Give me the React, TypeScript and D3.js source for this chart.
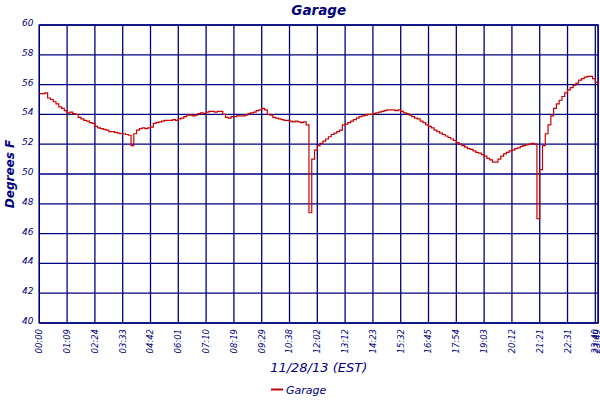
import React from "react";
import * as d3 from "d3";

const temps: number[] = [
  55.4, 55.4, 55.45, 55.1, 55.0, 54.85, 54.7, 54.5, 54.4, 54.25,
  54.1, 54.15, 54.05, 54.0, 53.8, 53.7, 53.6, 53.55, 53.45, 53.4,
  53.2, 53.1, 53.05, 53.0, 52.95, 52.85, 52.85, 52.8, 52.75, 52.7,
  52.7, 52.65, 52.6, 51.9, 52.7, 52.95, 53.05, 53.1, 53.05, 53.1,
  53.15, 53.4, 53.45, 53.5, 53.55, 53.6, 53.6, 53.6, 53.65, 53.6,
  53.7, 53.75, 53.85, 53.95, 53.95, 53.9, 53.95, 54.05, 54.1, 54.05,
  54.15, 54.2, 54.2, 54.15, 54.2, 54.2, 54.0, 53.8, 53.75, 53.85,
  53.85, 53.9, 53.9, 53.9, 53.95, 54.05, 54.1, 54.15, 54.25, 54.3,
  54.4, 54.3, 54.0, 53.95, 53.8, 53.75, 53.7, 53.65, 53.6, 53.6,
  53.55, 53.5, 53.55, 53.5, 53.45, 53.5, 53.3, 47.4, 51.0, 51.6,
  51.9, 52.05, 52.2, 52.35, 52.5, 52.65, 52.75, 52.85, 52.95, 53.3,
  53.35, 53.45, 53.55, 53.65, 53.75, 53.85, 53.9, 53.95, 54.0, 54.0,
  54.05, 54.1, 54.15, 54.2, 54.25, 54.3, 54.3, 54.3, 54.25, 54.3,
  54.2, 54.1, 54.05, 53.95, 53.85, 53.75, 53.7, 53.55, 53.45, 53.3,
  53.2, 53.1, 52.95, 52.85, 52.75, 52.65, 52.55, 52.45, 52.35, 52.25,
  52.1, 52.0, 51.9, 51.8, 51.7, 51.65, 51.55, 51.45, 51.4, 51.3,
  51.2, 51.05, 50.95, 50.8, 50.8, 51.0, 51.2, 51.35, 51.45, 51.55,
  51.6, 51.7, 51.75, 51.85, 51.9, 51.95, 52.0, 52.05, 52.0, 47.0,
  50.3, 51.9, 52.7, 53.3, 53.9, 54.4, 54.7, 54.95, 55.2, 55.45,
  55.65, 55.8, 55.95, 56.1, 56.3, 56.4, 56.5, 56.55, 56.55, 56.4,
  56.15, 56.0,
];

const tickIndex: number[] = [
  0, 10, 20, 30, 40, 50, 60, 70, 80, 90, 100, 110, 120, 130, 140, 150,
  160, 170, 180, 190, 200, 201,
];
const tickLabels: string[] = [
  "00:00", "01:09", "02:24", "03:33", "04:42", "06:01", "07:10", "08:19",
  "09:29", "10:38", "12:02", "13:12", "14:23", "15:32", "16:45", "17:54",
  "19:03", "20:12", "21:21", "22:31", "23:40", "23:49",
];
const yTicks: number[] = [40, 42, 44, 46, 48, 50, 52, 54, 56, 58, 60];

const NAVY = "#000080";
const RED = "#cc0000";
const FONT = "'DejaVu Sans', Verdana, sans-serif";

export default function App() {
  const W = 600;
  const H = 400;
  const left = 39.3;
  const right = 598.1;
  const top = 25;
  const bottom = 323;

  const x = d3.scaleLinear().domain([0, temps.length - 1]).range([left, right]);
  const y = d3.scaleLinear().domain([40, 60]).range([bottom, top]);

  const line = d3
    .line<number>()
    .x((_, i) => x(i))
    .y((d) => y(d))
    .curve(d3.curveStepAfter);

  return (
    <svg
      width={W}
      height={H}
      style={{ position: "absolute", left: 0, top: 0, background: "#fff" }}
      fontFamily={FONT}
    >
      <rect x={0} y={0} width={W} height={H} fill="#fff" />
      {yTicks.map((t) => (
        <line
          key={"h" + t}
          x1={left}
          x2={right}
          y1={y(t)}
          y2={y(t)}
          stroke={NAVY}
          strokeWidth={1.3}
        />
      ))}
      {tickIndex.map((t) => (
        <line
          key={"v" + t}
          x1={x(t)}
          x2={x(t)}
          y1={top}
          y2={bottom}
          stroke={NAVY}
          strokeWidth={1.3}
        />
      ))}
      <rect
        x={left}
        y={top}
        width={right - left}
        height={bottom - top}
        fill="none"
        stroke={NAVY}
        strokeWidth={1.3}
      />
      <path d={line(temps) || ""} fill="none" stroke={RED} strokeWidth={1.2} />
      {yTicks.map((t) => (
        <text
          key={"yl" + t}
          x={33.5}
          y={y(t) - 1.5}
          textAnchor="end"
          dominantBaseline="middle"
          fontSize={9}
          fontStyle="italic"
          fill={NAVY}
        >
          {t}
        </text>
      ))}
      {tickIndex.map((t, i) => (
        <text
          key={"xl" + t}
          transform={`translate(${i === tickIndex.length - 1 ? x(t) - 1.5 : x(t)},${329}) rotate(-90)`}
          textAnchor="end"
          dy="0.35em"
          fontSize={8.5}
          fontStyle="italic"
          fill={NAVY}
        >
          {tickLabels[i]}
        </text>
      ))}
      <text
        x={(left + right) / 2}
        y={15}
        textAnchor="middle"
        fontSize={13.5}
        fontWeight="bold"
        fontStyle="italic"
        fill={NAVY}
      >
        Garage
      </text>
      <text
        transform={`translate(${14},${(top + bottom) / 2}) rotate(-90)`}
        textAnchor="middle"
        fontSize={12}
        fontWeight="bold"
        fontStyle="italic"
        fill={NAVY}
      >
        Degrees F
      </text>
      <text
        x={(left + right) / 2}
        y={372}
        textAnchor="middle"
        fontSize={13}
        fontStyle="italic"
        fill={NAVY}
      >
        11/28/13 (EST)
      </text>
      <line x1={271} x2={283} y1={389.5} y2={389.5} stroke={RED} strokeWidth={2} />
      <text x={286} y={393.5} fontSize={11} fontStyle="italic" fill={NAVY}>
        Garage
      </text>
    </svg>
  );
}
